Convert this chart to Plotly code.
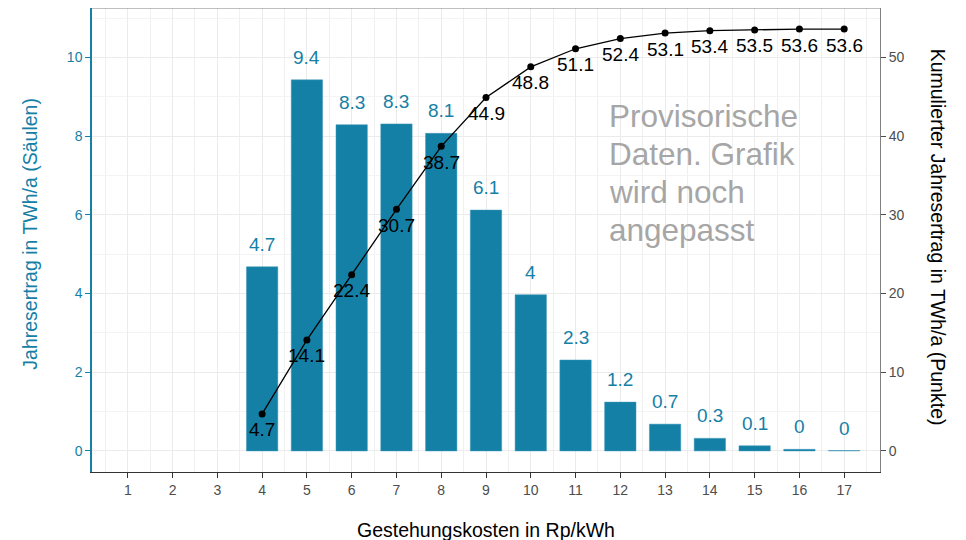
import plotly.graph_objects as go

# ---- data ----
cost_all = list(range(1, 18))                      # x tick labels (Rp/kWh)
cost = [4, 5, 6, 7, 8, 9, 10, 11, 12, 13, 14, 15, 16, 17]
yield_twh = [4.68, 9.43, 8.29, 8.31, 8.07, 6.12, 3.97, 2.31, 1.24, 0.68, 0.32, 0.13, 0.04, 0.01]
cum_twh = [4.7, 14.1, 22.4, 30.7, 38.7, 44.9, 48.8, 51.1, 52.4, 53.1, 53.4, 53.5, 53.6, 53.6]
note_lines = ["Provisorische", "Daten. Grafik", "wird noch", "angepasst"]

TEAL = "#1580A6"
FONT = "Liberation Sans, Arial, sans-serif"
SEC = 5.0  # secondary axis factor

def fmt(v):
    r = round(v, 1)
    return f"{r:g}"

fig = go.Figure()

fig.add_trace(go.Bar(
    x=cost, y=yield_twh, width=0.7,
    marker=dict(color=TEAL, line=dict(color="#3a97b8", width=0.5)),
    hoverinfo="x+y", showlegend=False, yaxis="y",
))

fig.add_trace(go.Scatter(
    x=cost, y=cum_twh, mode="lines+markers",
    line=dict(color="black", width=1.3),
    marker=dict(color="black", size=7),
    showlegend=False, yaxis="y2",
))

annotations = []
# bar labels
for xv, yv in zip(cost, yield_twh):
    annotations.append(dict(
        x=xv, y=yv, xref="x", yref="y", text=fmt(yv), showarrow=False,
        yanchor="bottom", yshift=10, font=dict(family=FONT, size=19, color=TEAL),
    ))
# cumulative labels
for xv, yv in zip(cost, cum_twh):
    annotations.append(dict(
        x=xv, y=yv, xref="x", yref="y2", text=fmt(yv), showarrow=False,
        yanchor="middle", yshift=-16, font=dict(family=FONT, size=19, color="black"),
    ))
# note (one annotation per line for exact line spacing)
for i, line in enumerate(note_lines):
    annotations.append(dict(
        x=11.7, y=7.0, xref="x", yref="y", text=line,
        showarrow=False, xanchor="left", yanchor="middle", align="left",
        yshift=(1.5 - i) * 38.3 + 2.5,
        font=dict(family=FONT, size=31.5, color="#A6A6A6"),
    ))
# axis titles
annotations.append(dict(
    x=-0.079, y=0.513, xref="paper", yref="paper", text="Jahresertrag in TWh/a (Säulen)",
    showarrow=False, textangle=-90, xanchor="center", yanchor="middle",
    font=dict(family=FONT, size=19.5, color=TEAL),
))
annotations.append(dict(
    x=1.0736, y=0.505, xref="paper", yref="paper", text="Kumulierter Jahresertrag in TWh/a (Punkte)",
    showarrow=False, textangle=90, xanchor="center", yanchor="middle",
    font=dict(family=FONT, size=19.5, color="black"),
))
annotations.append(dict(
    x=0.5, y=-0.125, xref="paper", yref="paper", text="Gestehungskosten in Rp/kWh",
    showarrow=False, xanchor="center", yanchor="middle",
    font=dict(family=FONT, size=19.5, color="black"),
))

yr = [-0.536, 11.256]

fig.update_layout(
    width=958, height=532,
    margin=dict(l=84, r=86, t=0, b=68, autoexpand=False),
    paper_bgcolor="white", plot_bgcolor="white",
    font=dict(family=FONT),
    bargap=0.3,
    annotations=annotations,
    xaxis=dict(
        range=[0.2, 17.8], tickmode="array", tickvals=cost_all,
        ticktext=[str(c) for c in cost_all],
        tickfont=dict(size=14, color="#4D4D4D"),
        showgrid=True, gridcolor="#EBEBEB", gridwidth=1,
        minor=dict(dtick=0.5, tick0=0.5, showgrid=True, gridcolor="#F0F0F0", gridwidth=1),
        zeroline=False, showline=True, linecolor="#333333", linewidth=1,
        ticks="outside", ticklen=5, tickcolor="#333333",
    ),
    yaxis=dict(
        range=yr, tickmode="linear", tick0=0, dtick=2,
        tickfont=dict(size=14, color=TEAL),
        showgrid=True, gridcolor="#EBEBEB", gridwidth=1,
        minor=dict(dtick=1, tick0=1, showgrid=True, gridcolor="#F4F4F4", gridwidth=1),
        zeroline=False, showline=True, linecolor=TEAL, linewidth=1.5,
        ticks="outside", ticklen=5, tickcolor=TEAL,
    ),
    yaxis2=dict(
        range=[yr[0] * SEC, yr[1] * SEC], overlaying="y", side="right",
        tickmode="linear", tick0=0, dtick=10,
        tickfont=dict(size=14, color="#4D4D4D"),
        showgrid=False, zeroline=False, showline=True, linecolor="#808080", linewidth=1,
        ticks="outside", ticklen=5, tickcolor="#4D4D4D",
    ),
    shapes=[dict(type="line", xref="paper", yref="paper", x0=0, x1=1, y0=1, y1=1,
                 line=dict(color="#808080", width=1))],
)

fig.write_html("out.html")
